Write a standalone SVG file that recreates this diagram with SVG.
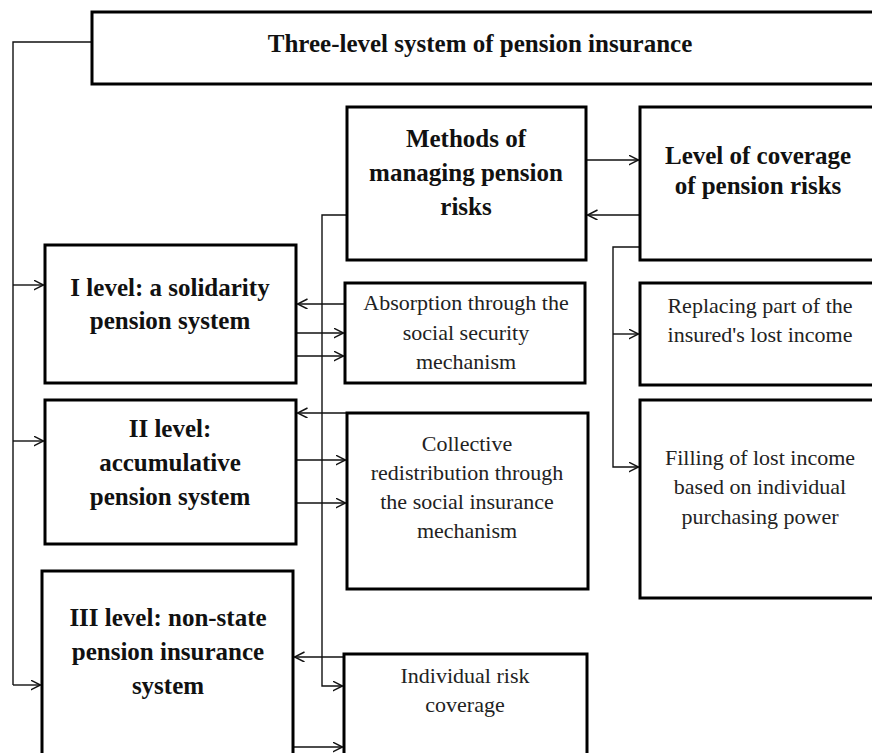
<svg xmlns="http://www.w3.org/2000/svg" width="872" height="753" viewBox="0 0 872 753">
<style>
.box{fill:#fff;stroke:#000;stroke-width:3}
.b{font-family:"Liberation Serif","Times New Roman",serif;font-weight:bold;font-size:25px;fill:#111;text-anchor:middle}
.r{font-family:"Liberation Serif","Times New Roman",serif;font-size:22px;fill:#222;text-anchor:middle}
.c{fill:none;stroke:#111;stroke-width:1.4}
</style>
<defs>
<marker id="ar" markerUnits="userSpaceOnUse" markerWidth="12" markerHeight="12" refX="10" refY="5" orient="auto">
<path d="M0,0 L10,5 L0,10" fill="none" stroke="#111" stroke-width="1.4"/>
</marker>
</defs>
<rect width="872" height="753" fill="#fff"/>
<g id="connectors">
<path class="c" d="M92,42 H13 V685"/>
<path class="c" d="M13,285 H43.5" marker-end="url(#ar)"/>
<path class="c" d="M13,441 H43.5" marker-end="url(#ar)"/>
<path class="c" d="M13,685 H40.5" marker-end="url(#ar)"/>
<path class="c" d="M586,160 H638.5" marker-end="url(#ar)"/>
<path class="c" d="M640,215 H587.5" marker-end="url(#ar)"/>
<path class="c" d="M347,215 H322 V686 H342.5" marker-end="url(#ar)"/>
<path class="c" d="M640,247 H613 V467 H638.5" marker-end="url(#ar)"/>
<path class="c" d="M613,334 H638.5" marker-end="url(#ar)"/>
<path class="c" d="M345,304 H297.5" marker-end="url(#ar)"/>
<path class="c" d="M296,333 H343.5" marker-end="url(#ar)"/>
<path class="c" d="M296,356 H343.5" marker-end="url(#ar)"/>
<path class="c" d="M347,413 H297.5" marker-end="url(#ar)"/>
<path class="c" d="M296,460 H345.5" marker-end="url(#ar)"/>
<path class="c" d="M293,503 H345.5" marker-end="url(#ar)"/>
<path class="c" d="M344,657 H294.5" marker-end="url(#ar)"/>
<path class="c" d="M293,747 H342.5" marker-end="url(#ar)"/>
</g>
<g id="top">
<rect class="box" x="92" y="12" width="800" height="72"/>
<text class="b" x="480" y="52">Three-level system of pension insurance</text>
</g>
<g id="methods">
<rect class="box" x="347" y="107" width="239" height="153"/>
<text class="b" x="466" y="147">Methods of</text>
<text class="b" x="466" y="181">managing pension</text>
<text class="b" x="466" y="215">risks</text>
</g>
<g id="coverage">
<rect class="box" x="640" y="107" width="240" height="153"/>
<text class="b" x="758" y="164">Level of coverage</text>
<text class="b" x="758" y="194">of pension risks</text>
</g>
<g id="level1">
<rect class="box" x="45" y="245" width="251" height="138"/>
<text class="b" x="170" y="296">I level: a solidarity</text>
<text class="b" x="170" y="329">pension system</text>
</g>
<g id="absorption">
<rect class="box" x="345" y="283" width="240" height="100"/>
<text class="r" x="466" y="310">Absorption through the</text>
<text class="r" x="466" y="340">social security</text>
<text class="r" x="466" y="369">mechanism</text>
</g>
<g id="replacing">
<rect class="box" x="640" y="283" width="240" height="102"/>
<text class="r" x="760" y="313">Replacing part of the</text>
<text class="r" x="760" y="342">insured's lost income</text>
</g>
<g id="level2">
<rect class="box" x="45" y="400" width="251" height="144"/>
<text class="b" x="170" y="437">II level:</text>
<text class="b" x="170" y="471">accumulative</text>
<text class="b" x="170" y="505">pension system</text>
</g>
<g id="collective">
<rect class="box" x="347" y="413" width="241" height="176"/>
<text class="r" x="467" y="451">Collective</text>
<text class="r" x="467" y="480">redistribution through</text>
<text class="r" x="467" y="509">the social insurance</text>
<text class="r" x="467" y="538">mechanism</text>
</g>
<g id="filling">
<rect class="box" x="640" y="400" width="240" height="198"/>
<text class="r" x="760" y="465">Filling of lost income</text>
<text class="r" x="760" y="494">based on individual</text>
<text class="r" x="760" y="524">purchasing power</text>
</g>
<g id="level3">
<rect class="box" x="42" y="571" width="251" height="200"/>
<text class="b" x="168" y="626">III level: non-state</text>
<text class="b" x="168" y="660">pension insurance</text>
<text class="b" x="168" y="694">system</text>
</g>
<g id="individual">
<rect class="box" x="344" y="654" width="243" height="120"/>
<text class="r" x="465" y="683">Individual risk</text>
<text class="r" x="465" y="712">coverage</text>
</g>
</svg>
